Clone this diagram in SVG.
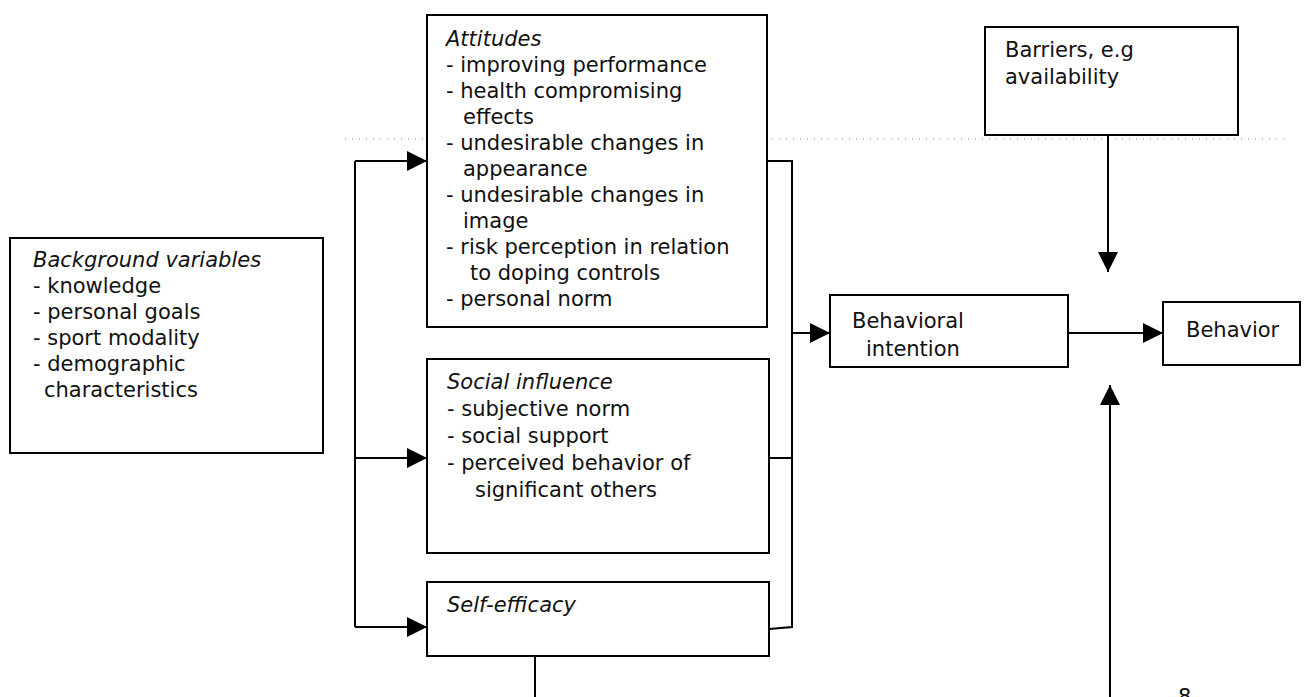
<svg xmlns="http://www.w3.org/2000/svg" width="1309" height="697" viewBox="0 0 1309 697">
<defs>
<style>
.box{fill:#fff;stroke:#000;stroke-width:2}
.t{font-family:"DejaVu Sans","Verdana",sans-serif;font-size:21px;fill:#111}
.i{font-style:italic}
.c{fill:none;stroke:#000;stroke-width:2}
.dot{fill:none;stroke:#888;stroke-width:1;stroke-dasharray:1 6}
</style>
<marker id="ah" markerWidth="20" markerHeight="20" viewBox="0 0 20 20" refX="20" refY="10" orient="auto" markerUnits="userSpaceOnUse">
<path d="M0,0 L20,10 L0,20 Z" fill="#000"/>
</marker>
</defs>
<rect width="1309" height="697" fill="#fff"/>
<line class="dot" x1="345" y1="139" x2="1290" y2="139"/>
<g id="connectors">
<path class="c" d="M355,161 V627"/>
<path class="c" d="M355,161 H427" marker-end="url(#ah)"/>
<path class="c" d="M355,458 H427" marker-end="url(#ah)"/>
<path class="c" d="M355,627 H427" marker-end="url(#ah)"/>
<path class="c" d="M767,161 H792 V627 L769,629"/>
<path class="c" d="M769,458 H792"/>
<path class="c" d="M792,333 H830" marker-end="url(#ah)"/>
<path class="c" d="M1068,333 H1163" marker-end="url(#ah)"/>
<path class="c" d="M1108,135 V272" marker-end="url(#ah)"/>
<path class="c" d="M1110,697 V385" marker-end="url(#ah)"/>
<path class="c" d="M535,656 V697"/>
</g>
<g id="background">
<rect class="box" x="10" y="238" width="313" height="215"/>
<text class="t i" x="33" y="267">Background variables</text>
<text class="t" x="33" y="293">- knowledge</text>
<text class="t" x="33" y="319">- personal goals</text>
<text class="t" x="33" y="345">- sport modality</text>
<text class="t" x="33" y="371">- demographic</text>
<text class="t" x="44" y="397">characteristics</text>
</g>
<g id="attitudes">
<rect class="box" x="427" y="15" width="340" height="312"/>
<text class="t i" x="446" y="46">Attitudes</text>
<text class="t" x="446" y="72">- improving performance</text>
<text class="t" x="446" y="98">- health compromising</text>
<text class="t" x="463" y="124">effects</text>
<text class="t" x="446" y="150">- undesirable changes in</text>
<text class="t" x="463" y="176">appearance</text>
<text class="t" x="446" y="202">- undesirable changes in</text>
<text class="t" x="463" y="228">image</text>
<text class="t" x="446" y="254">- risk perception in relation</text>
<text class="t" x="470" y="280">to doping controls</text>
<text class="t" x="446" y="306">- personal norm</text>
</g>
<g id="social">
<rect class="box" x="427" y="359" width="342" height="194"/>
<text class="t i" x="447" y="389">Social influence</text>
<text class="t" x="447" y="416">- subjective norm</text>
<text class="t" x="447" y="443">- social support</text>
<text class="t" x="447" y="470">- perceived behavior of</text>
<text class="t" x="475" y="497">significant others</text>
</g>
<g id="selfefficacy">
<rect class="box" x="427" y="582" width="342" height="74"/>
<text class="t i" x="447" y="612">Self-efficacy</text>
</g>
<g id="intention">
<rect class="box" x="830" y="295" width="238" height="72"/>
<text class="t" x="852" y="328">Behavioral</text>
<text class="t" x="866" y="356">intention</text>
</g>
<g id="behavior">
<rect class="box" x="1163" y="302" width="137" height="63"/>
<text class="t" x="1186" y="337">Behavior</text>
</g>
<g id="barriers">
<rect class="box" x="985" y="27" width="253" height="108"/>
<text class="t" x="1005" y="57">Barriers, e.g</text>
<text class="t" x="1005" y="84">availability</text>
</g>
<text class="t" x="1178" y="704">8</text>
</svg>
